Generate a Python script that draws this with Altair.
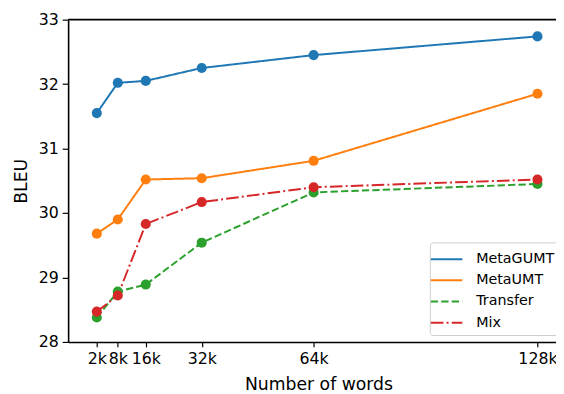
import altair as alt
import pandas as pd

words_k = [2, 8, 16, 32, 64, 128]
series_names = ["MetaGUMT", "MetaUMT", "Transfer", "Mix"]
meta_gumt = [31.55, 32.02, 32.05, 32.25, 32.45, 32.74]
meta_umt = [29.68, 29.90, 30.52, 30.54, 30.81, 31.85]
transfer = [28.38, 28.78, 28.89, 29.54, 30.32, 30.45]
mix = [28.47, 28.72, 29.83, 30.17, 30.40, 30.52]
colors = ["#1f77b4", "#ff7f0e", "#2ca02c", "#d62728"]
dashes = [[1, 0], [1, 0], [7.4, 3.2], [12.8, 3.2, 2, 3.2]]

rows = []
for name, vals in zip(series_names, [meta_gumt, meta_umt, transfer, mix]):
    for w, v in zip(words_k, vals):
        rows.append({"series": name, "words": w, "bleu": v})
df = pd.DataFrame(rows)

W, H = 495, 327
FONT = "DejaVu Sans"

x_enc = alt.X("words:Q", scale=alt.Scale(domain=[-6.2, 133.3], nice=False, zero=False),
              axis=alt.Axis(values=words_k, labelExpr="datum.value + 'k'", title="Number of words",
                            grid=False, domainColor="black", domainWidth=1.6, tickColor="black",
                            tickWidth=1.2, tickSize=5, labelFontSize=16, titleFontSize=17.5,
                            titleFontWeight="normal", labelColor="black", titleColor="black",
                            labelPadding=4, titlePadding=9, titleX=254, labelFont=FONT, titleFont=FONT,
                            labelFlush=False, labelOverlap=False))
y_enc = alt.Y("bleu:Q", scale=alt.Scale(domain=[28, 33], nice=False, zero=False),
              axis=alt.Axis(values=[28, 29, 30, 31, 32, 33], format="d", title="BLEU", grid=False,
                            domainColor="black", domainWidth=1.6, tickColor="black",
                            tickWidth=1.2, tickSize=6, labelFontSize=16, titleFontSize=17.5,
                            titleFontWeight="normal", labelColor="black", titleColor="black",
                            labelPadding=4, titlePadding=8, labelFont=FONT, titleFont=FONT,
                            labelFlush=False, labelOverlap=False))

lines = alt.Chart(df).mark_line(strokeWidth=2).encode(
    x=x_enc, y=y_enc,
    color=alt.Color("series:N", scale=alt.Scale(domain=series_names, range=colors),
                    legend=alt.Legend(title=None, orient="none", legendX=367, legendY=226,
                                      symbolType="M-1.6,0H1.6", symbolSize=400, symbolStrokeWidth=2,
                                      labelFontSize=14.5, labelFont=FONT, labelColor="black",
                                      rowPadding=3.5, padding=6, strokeColor="#cccccc",
                                      cornerRadius=3, fillColor="white", labelOffset=19)),
    strokeDash=alt.StrokeDash("series:N", scale=alt.Scale(domain=series_names, range=dashes),
                              legend=None),
    order="words:Q",
)

points = alt.Chart(df).mark_point(filled=True, size=105, opacity=1, stroke=None).encode(
    x="words:Q", y="bleu:Q",
    fill=alt.Fill("series:N", scale=alt.Scale(domain=series_names, range=colors), legend=None),
)

top = alt.Chart(alt.Data(values=[{}])).mark_rule(color="black", strokeWidth=1.6).encode(
    x=alt.value(0), x2=alt.value(W), y=alt.value(0))

chart = alt.layer(lines, points, top).properties(
    width=W, height=H,
    autosize=alt.AutoSizeParams(type="none"),
    padding={"left": 61, "top": 9, "right": 0, "bottom": 50},
).configure_view(stroke=None)

chart.save("out.html", embed_options={"renderer": "svg", "actions": False})
